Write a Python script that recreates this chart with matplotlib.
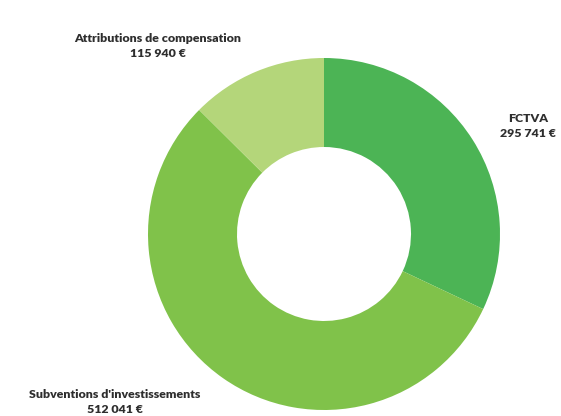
import matplotlib
matplotlib.use("Agg")
import matplotlib.pyplot as plt

categories = ["FCTVA", "Subventions d'investissements", "Attributions de compensation"]
values = [295741, 512041, 115940]
value_labels = ["295 741 €", "512 041 €", "115 940 €"]
colors = ["#4cb455", "#80c24a", "#b4d67a"]

W, H = 561, 416
fig = plt.figure(figsize=(W / 100, H / 100), dpi=100)
ax = fig.add_axes([0, 0, 1, 1])

cx, cy, R = 324, H - 234, 176
ax.pie(values, colors=colors, startangle=90, counterclock=False,
       center=(cx, cy), radius=R, frame=True,
       wedgeprops=dict(width=R - 87, linewidth=0))
ax.set_xlim(0, W)
ax.set_ylim(0, H)
ax.set_aspect("equal")
ax.axis("off")

txt = dict(family="Lato", fontweight="heavy", fontsize=8.9, color="#2e2e2e",
           ha="center", va="center", linespacing=1.45)
label_pos = {
    "FCTVA": (528, H - 126),
    "Subventions d'investissements": (115, H - 402),
    "Attributions de compensation": (158, H - 46),
}
for cat, vl in zip(categories, value_labels):
    x, y = label_pos[cat]
    ax.text(x, y, f"{cat}\n{vl}", **txt)

fig.savefig("out.png", dpi=100)
